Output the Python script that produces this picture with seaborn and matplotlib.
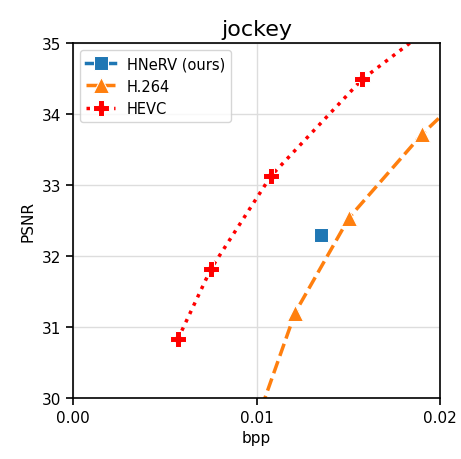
import matplotlib
matplotlib.use("Agg")
import matplotlib.pyplot as plt
import seaborn as sns
import pandas as pd

plt.rcParams['font.family'] = ['DejaVu Sans']

title = "jockey"
hnerv_bpp = [0.01351]
hnerv_psnr = [32.30]
h264_bpp = [0.0090, 0.0121, 0.01504, 0.01902, 0.0250]
h264_psnr = [28.93, 31.20, 32.54, 33.72, 35.19]
hevc_bpp = [0.00572, 0.00752, 0.01079, 0.01575, 0.0226]
hevc_psnr = [30.83, 31.82, 33.13, 34.49, 35.84]

fig, ax = plt.subplots(figsize=(4.61, 4.60), dpi=100)

sns.lineplot(x=hnerv_bpp, y=hnerv_psnr, ax=ax, color="#1f77b4", marker="s",
             markersize=10, linewidth=2.5, label="HNeRV (ours)", sort=False)
sns.lineplot(x=h264_bpp, y=h264_psnr, ax=ax, color="#ff7f0e", marker="^",
             markersize=11, linewidth=2.5, linestyle="--", label="H.264", sort=False)
sns.lineplot(x=hevc_bpp, y=hevc_psnr, ax=ax, color="red", marker="P",
             markersize=11, linewidth=2.5, linestyle=":", label="HEVC", sort=False)

ax.set_xlim(0, 0.02)
ax.set_ylim(30, 35)
ax.set_xticks([0.0, 0.01, 0.02])
ax.set_xticklabels(["0.00", "0.01", "0.02"])
ax.set_yticks([30, 31, 32, 33, 34, 35])
ax.grid(True, color="#dddddd", linewidth=1)
ax.set_axisbelow(True)
for s in ax.spines.values():
    s.set_color("black")
    s.set_linewidth(1.2)
ax.tick_params(labelsize=11, color="black", width=1.2, length=5)
ax.set_xlabel("bpp", fontsize=11)
ax.set_ylabel("PSNR", fontsize=11)
ax.set_title(title, fontsize=16)
leg = ax.legend(loc="upper left", fontsize=10.5, frameon=True)
for h in leg.legend_handles:
    pass

fig.subplots_adjust(left=0.158, right=0.955, top=0.904, bottom=0.133)
fig.savefig("out.png", dpi=100)
